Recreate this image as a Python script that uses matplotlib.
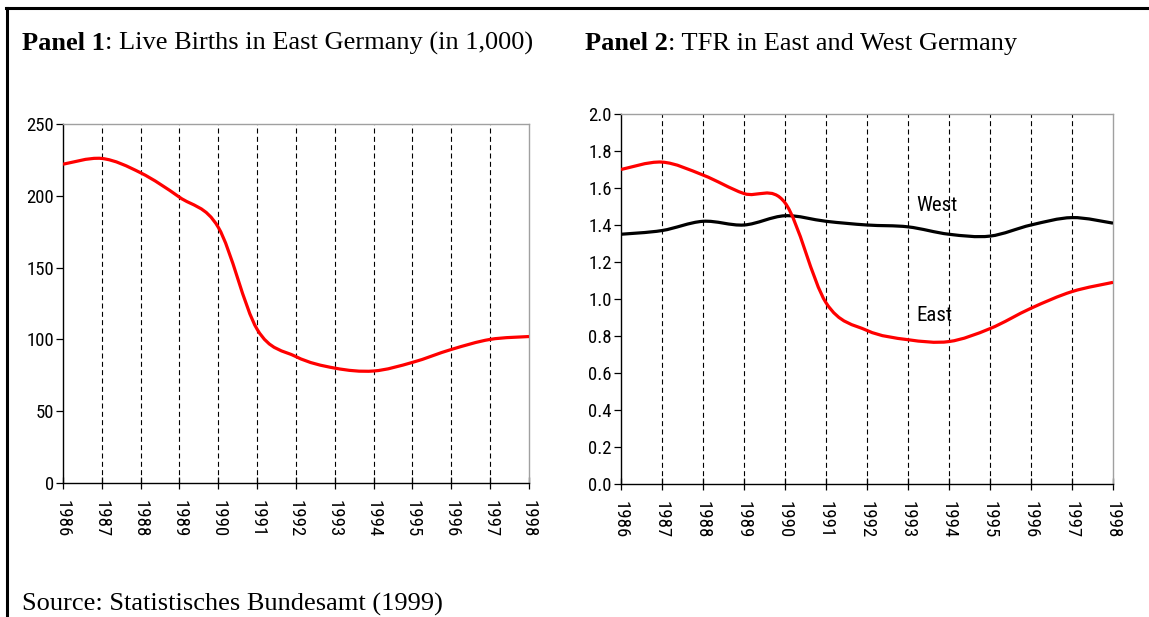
import numpy as np
import matplotlib
matplotlib.use("Agg")
import matplotlib.pyplot as plt
from matplotlib.path import Path
from matplotlib.patches import PathPatch
from matplotlib.lines import Line2D

# data
years = [1986, 1987, 1988, 1989, 1990, 1991, 1992, 1993, 1994, 1995, 1996, 1997, 1998]
births_east = [222, 226, 216, 199, 178, 107, 88, 80, 78, 84, 93, 100, 102]
tfr_east = [1.70, 1.74, 1.67, 1.57, 1.52, 0.98, 0.83, 0.78, 0.77, 0.84, 0.95, 1.04, 1.09]
tfr_west = [1.35, 1.37, 1.42, 1.40, 1.45, 1.42, 1.40, 1.39, 1.35, 1.34, 1.40, 1.44, 1.41]
year_labels = [str(y) for y in years]

TICK_FONT = ["Roboto Condensed", "Liberation Sans", "DejaVu Sans"]
SERIF = ["Liberation Serif", "DejaVu Serif"]
W, H = 1149, 617


def smooth_path(x, y):
    # excel-style smoothed line: cubic bezier through the points
    pts = np.column_stack([np.asarray(x, float), np.asarray(y, float)])
    n = len(pts)
    verts = [pts[0]]
    codes = [Path.MOVETO]
    for i in range(n - 1):
        p0 = pts[i - 1] if i > 0 else pts[i]
        p1 = pts[i]
        p2 = pts[i + 1]
        p3 = pts[i + 2] if i + 2 < n else pts[i + 1]
        verts += [p1 + (p2 - p0) / 6.0, p2 - (p3 - p1) / 6.0, p2]
        codes += [Path.CURVE4] * 3
    return Path(verts, codes)


def style_axes(ax, ylim, yticks, yfmt):
    ax.set_xlim(years[0], years[-1])
    ax.set_ylim(*ylim)
    ax.set_xticks(years)
    ax.set_xticklabels(year_labels, rotation=-90, family=TICK_FONT, fontsize=13.5)
    ax.set_yticks(yticks)
    ax.set_yticklabels([yfmt.format(v) for v in yticks], family=TICK_FONT, fontsize=13.5)
    ax.tick_params(axis="x", direction="inout", length=9, width=0.9, pad=8)
    ax.tick_params(axis="y", direction="out", length=5, width=0.9, pad=1.5)
    for s in ("top", "right"):
        ax.spines[s].set_color("#a0a0a0")
        ax.spines[s].set_linewidth(1.0)
    for s in ("left", "bottom"):
        ax.spines[s].set_color("black")
        ax.spines[s].set_linewidth(1.0)
    for yr in years[1:-1]:
        ax.axvline(yr, color="black", lw=0.8, dashes=(4.5, 3), zorder=1)


def title(fig, x, bold, rest):
    t = fig.text(x / W, 1 - 50 / H, bold, family=SERIF, fontsize=19, fontweight="bold")
    fig.canvas.draw()
    bb = t.get_window_extent()
    fig.text(bb.x1 / W, 1 - 50 / H, rest, family=SERIF, fontsize=19)


fig = plt.figure(figsize=(W / 100, H / 100), dpi=100)

ax1 = fig.add_axes([63 / W, 1 - 483 / H, 466 / W, 359 / H])
style_axes(ax1, (0, 250), [0, 50, 100, 150, 200, 250], "{:d}")
ax1.add_patch(PathPatch(smooth_path(years, births_east), fill=False,
                        edgecolor="#ff0000", lw=2.3, zorder=3))

ax2 = fig.add_axes([621 / W, 1 - 484 / H, 492 / W, 370 / H])
style_axes(ax2, (0, 2.0), [0.0, 0.2, 0.4, 0.6, 0.8, 1.0, 1.2, 1.4, 1.6, 1.8, 2.0], "{:.1f}")
ax2.add_patch(PathPatch(smooth_path(years, tfr_west), fill=False,
                        edgecolor="black", lw=2.3, zorder=3))
ax2.add_patch(PathPatch(smooth_path(years, tfr_east), fill=False,
                        edgecolor="#ff0000", lw=2.3, zorder=3))
ax2.text(1993.2, 1.505, "West", family=TICK_FONT, fontsize=15, va="center", ha="left")
ax2.text(1993.2, 0.91, "East", family=TICK_FONT, fontsize=15, va="center", ha="left")

title(fig, 22, "Panel 1", ": Live Births in East Germany (in 1,000)")
title(fig, 585, "Panel 2", ": TFR in East and West Germany")
fig.text(22 / W, 1 - 611 / H, "Source: Statistisches Bundesamt (1999)",
         family=SERIF, fontsize=19)

# page frame (top and left rule)
fig.add_artist(Line2D([6 / W, 1], [1 - 7.5 / H, 1 - 7.5 / H],
                      transform=fig.transFigure, color="black", lw=2.2))
fig.add_artist(Line2D([6.5 / W, 6.5 / W], [0, 1 - 7.5 / H],
                      transform=fig.transFigure, color="black", lw=2.2))

fig.savefig("out.png", dpi=100)
